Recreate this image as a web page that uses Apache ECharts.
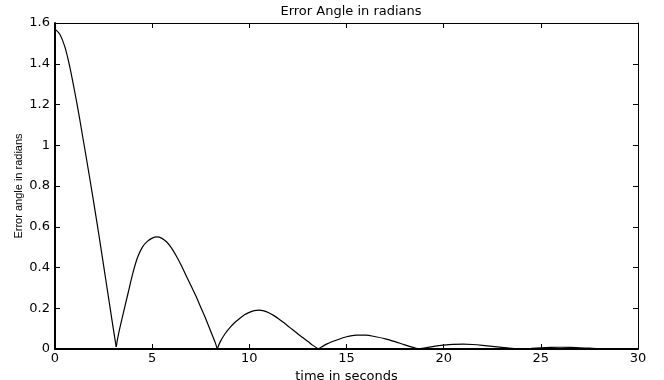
<!DOCTYPE html>
<html lang="en">
<head>
    <meta charset="UTF-8">
    <title>Error Angle in radians</title>
    <script type="text/javascript" src="https://cdn.jsdelivr.net/npm/echarts@6/dist/echarts.min.js"></script>
    <style>
        html, body { margin: 0; padding: 0; background: #fff; }
    </style>
</head>
<body>
<div id="main" style="width: 664px;height:380px;"></div>

<script type="text/javascript">
    // time (s) and error angle (rad)
    var timeData = [
        0, 0.25, 0.5, 0.75, 1, 1.25, 1.5, 1.75, 2, 2.25, 2.5, 2.75, 3, 3.15,
        3.25, 3.5, 3.75, 4, 4.25, 4.5, 4.75, 5, 5.25, 5.5, 5.75, 6, 6.25, 6.5, 6.75, 7, 7.25, 7.5, 7.75, 8, 8.25, 8.35,
        8.5, 8.75, 9, 9.25, 9.5, 9.75, 10, 10.25, 10.5, 10.75, 11, 11.25, 11.5, 11.75, 12, 12.25, 12.5, 12.75, 13, 13.25, 13.55,
        14, 14.5, 15, 15.5, 16, 16.5, 17, 17.5, 18, 18.7,
        19, 19.5, 20, 20.5, 21, 21.5, 22, 22.5, 23, 23.5, 23.9,
        24.5, 25, 25.5, 26, 26.5, 27, 27.5, 28, 29.1, 29.5, 30
    ];
    var angleData = [
        1.57, 1.545, 1.485, 1.39, 1.27, 1.14, 1.00, 0.86, 0.715, 0.565, 0.41, 0.255, 0.10, 0.01,
        0.065, 0.17, 0.27, 0.37, 0.45, 0.50, 0.528, 0.544, 0.55, 0.543, 0.525, 0.495, 0.455, 0.41, 0.36, 0.31, 0.26, 0.205, 0.15, 0.09, 0.03, 0.0,
        0.035, 0.075, 0.105, 0.13, 0.15, 0.168, 0.18, 0.188, 0.191, 0.187, 0.178, 0.165, 0.149, 0.131, 0.112, 0.093, 0.074, 0.056, 0.038, 0.019, 0.0,
        0.025, 0.044, 0.060, 0.068, 0.068, 0.060, 0.050, 0.036, 0.020, 0.0,
        0.005, 0.013, 0.019, 0.023, 0.024, 0.022, 0.018, 0.013, 0.008, 0.003, 0.0,
        0.003, 0.006, 0.008, 0.0085, 0.008, 0.006, 0.004, 0.002, 0.0, 0.001, 0.002
    ];
    var xTicks = [0, 5, 10, 15, 20, 25, 30];
    var yTicks = [0, 0.2, 0.4, 0.6, 0.8, 1, 1.2, 1.4, 1.6];

    // split the curve into arches at its minima so the cusps stay sharp
    var arches = [[]];
    timeData.forEach(function (t, i) {
        var cur = arches[arches.length - 1];
        cur.push([t, angleData[i]]);
        var isMin = i > 0 && i < timeData.length - 1 &&
            angleData[i] <= angleData[i - 1] && angleData[i] <= angleData[i + 1];
        if (isMin) arches.push([[t, angleData[i]]]);
    });

    var myChart = echarts.init(document.getElementById('main'));

    var fontFam = '"DejaVu Sans", sans-serif';
    var tickStyle = { show: true, inside: true, length: 5, lineStyle: { color: '#000', width: 1 } };

    var option = {
        animation: false,
        backgroundColor: '#fff',
        title: {
            text: 'Error Angle in radians',
            left: 346,
            top: 0,
            textAlign: 'center',
            textStyle: { fontFamily: fontFam, fontSize: 13, fontWeight: 'normal', color: '#000' }
        },
        grid: { left: 55, right: 26, top: 23, bottom: 31, containLabel: false, outerBoundsMode: 'none' },
        xAxis: [{
            type: 'value',
            min: xTicks[0],
            max: xTicks[xTicks.length - 1],
            interval: 5,
            name: 'time in seconds',
            nameLocation: 'middle',
            nameGap: 17,
            nameTextStyle: { fontFamily: fontFam, fontSize: 13, color: '#000' },
            axisLine: { lineStyle: { color: '#000', width: 2 } },
            axisTick: tickStyle,
            axisLabel: { fontFamily: fontFam, fontSize: 13, color: '#000', margin: 3 },
            splitLine: { show: false }
        }, {
            type: 'value',
            position: 'top',
            min: xTicks[0],
            max: xTicks[xTicks.length - 1],
            interval: 5,
            axisLine: { show: true, onZero: false, lineStyle: { color: '#000', width: 1 } },
            axisTick: tickStyle,
            axisLabel: { show: false },
            splitLine: { show: false }
        }],
        yAxis: [{
            type: 'value',
            min: yTicks[0],
            max: yTicks[yTicks.length - 1],
            interval: 0.2,
            name: 'Error angle in radians',
            nameLocation: 'middle',
            nameGap: 31,
            nameMoveOverlap: false,
            nameTextStyle: { fontFamily: '"Liberation Sans", Arial, sans-serif', fontSize: 11, color: '#000' },
            axisLine: { show: true, lineStyle: { color: '#000', width: 2 } },
            axisTick: tickStyle,
            axisLabel: {
                fontFamily: fontFam, fontSize: 13, color: '#000', margin: 5,
                formatter: function (v) { return String(Math.round(v * 10) / 10); }
            },
            splitLine: { show: false }
        }, {
            type: 'value',
            position: 'right',
            min: yTicks[0],
            max: yTicks[yTicks.length - 1],
            interval: 0.2,
            axisLine: { show: true, onZero: false, lineStyle: { color: '#000', width: 1 } },
            axisTick: tickStyle,
            axisLabel: { show: false },
            splitLine: { show: false }
        }],
        series: arches.map(function (seg) {
            return {
                type: 'line',
                data: seg,
                showSymbol: false,
                smooth: 0.3,
                lineStyle: { color: '#000', width: 1.2 }
            };
        })
    };

    myChart.setOption(option);
</script>
</body>
</html>
